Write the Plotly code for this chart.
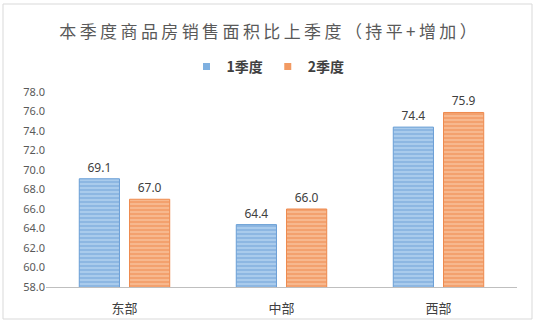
import plotly.graph_objects as go

categories = ["东部", "中部", "西部"]
q1_values = [69.1, 64.4, 74.4]
q2_values = [67.0, 66.0, 75.9]
series_names = ["1季度", "2季度"]
title_text = "本季度商品房销售面积比上季度（持平+增加）"
y_ticks = [58, 60, 62, 64, 66, 68, 70, 72, 74, 76, 78]

CJK = "Noto Sans CJK SC"
W, H = 536, 324
L, R, T, B = 46, 19, 92, 37
pw, ph = W - L - R, H - T - B

blue_main, orange_main = "#6a9fd6", "#ee8a4e"

fig = go.Figure()
fig.add_trace(go.Bar(
    name=series_names[0], x=categories, y=q1_values, showlegend=False,
    marker=dict(color="#9cc3e8", line=dict(color=blue_main, width=1),
                pattern=dict(shape="-", fgcolor="#6a9fd6", bgcolor="#a9cbec", size=4, solidity=0.45)),
    text=[f"{v:.1f}" for v in q1_values], textposition="outside",
    textfont=dict(family="Noto Sans, " + CJK, size=12, color="#404040"),
    cliponaxis=False,
))
fig.add_trace(go.Bar(
    name=series_names[1], x=categories, y=q2_values, showlegend=False,
    marker=dict(color="#f4a877", line=dict(color=orange_main, width=1),
                pattern=dict(shape="-", fgcolor="#ee8446", bgcolor="#f7b88e", size=4, solidity=0.45)),
    text=[f"{v:.1f}" for v in q2_values], textposition="outside",
    textfont=dict(family="Noto Sans, " + CJK, size=12, color="#404040"),
    cliponaxis=False,
))
# legend entries with small square keys
for name, col in zip(series_names, ["#7fb0e0", "#f29a62"]):
    fig.add_trace(go.Scatter(
        x=[None], y=[None], mode="markers", name=name,
        marker=dict(symbol="square", size=7, color=col),
        showlegend=True,
    ))

title_spaced = "\u2009".join(title_text)

fig.update_layout(
    width=W, height=H,
    margin=dict(l=L, r=R, t=T, b=B, autoexpand=False),
    paper_bgcolor="white", plot_bgcolor="white",
    barmode="group", bargap=0.36, bargroupgap=0.2,
    title=dict(text=title_spaced, x=0.5, xref="container", xanchor="center",
               y=1 - 32 / H, yref="container", yanchor="middle",
               font=dict(family=CJK, size=17, color="#595959")),
    legend=dict(orientation="h", x=0.5, xref="container", xanchor="center",
                y=1 - 67 / H, yref="container", yanchor="middle",
                font=dict(family=CJK, size=14, color="#404040", weight="bold"),
                itemwidth=30, tracegroupgap=0),
    showlegend=True,
    xaxis=dict(showline=True, linecolor="#bfbfbf", linewidth=1, showgrid=False,
               ticks="", ticklabelstandoff=9,
               tickfont=dict(family=CJK, size=13, color="#404040"),
               fixedrange=True),
    yaxis=dict(range=[58, 78], tickvals=y_ticks, ticktext=[f"{v:.1f}" for v in y_ticks],
               showgrid=False, showline=False, zeroline=False, ticks="",
               tickfont=dict(family="Noto Sans", size=11, color="#595959"),
               fixedrange=True),
    shapes=[dict(type="rect", xref="paper", yref="paper",
                 x0=(3 - L) / pw, x1=(532 - L) / pw,
                 y0=(H - B - 319) / ph, y1=(H - B - 4) / ph,
                 line=dict(color="#d9d9d9", width=1), fillcolor="rgba(0,0,0,0)", layer="below")],
)

fig.write_html("out.html")
